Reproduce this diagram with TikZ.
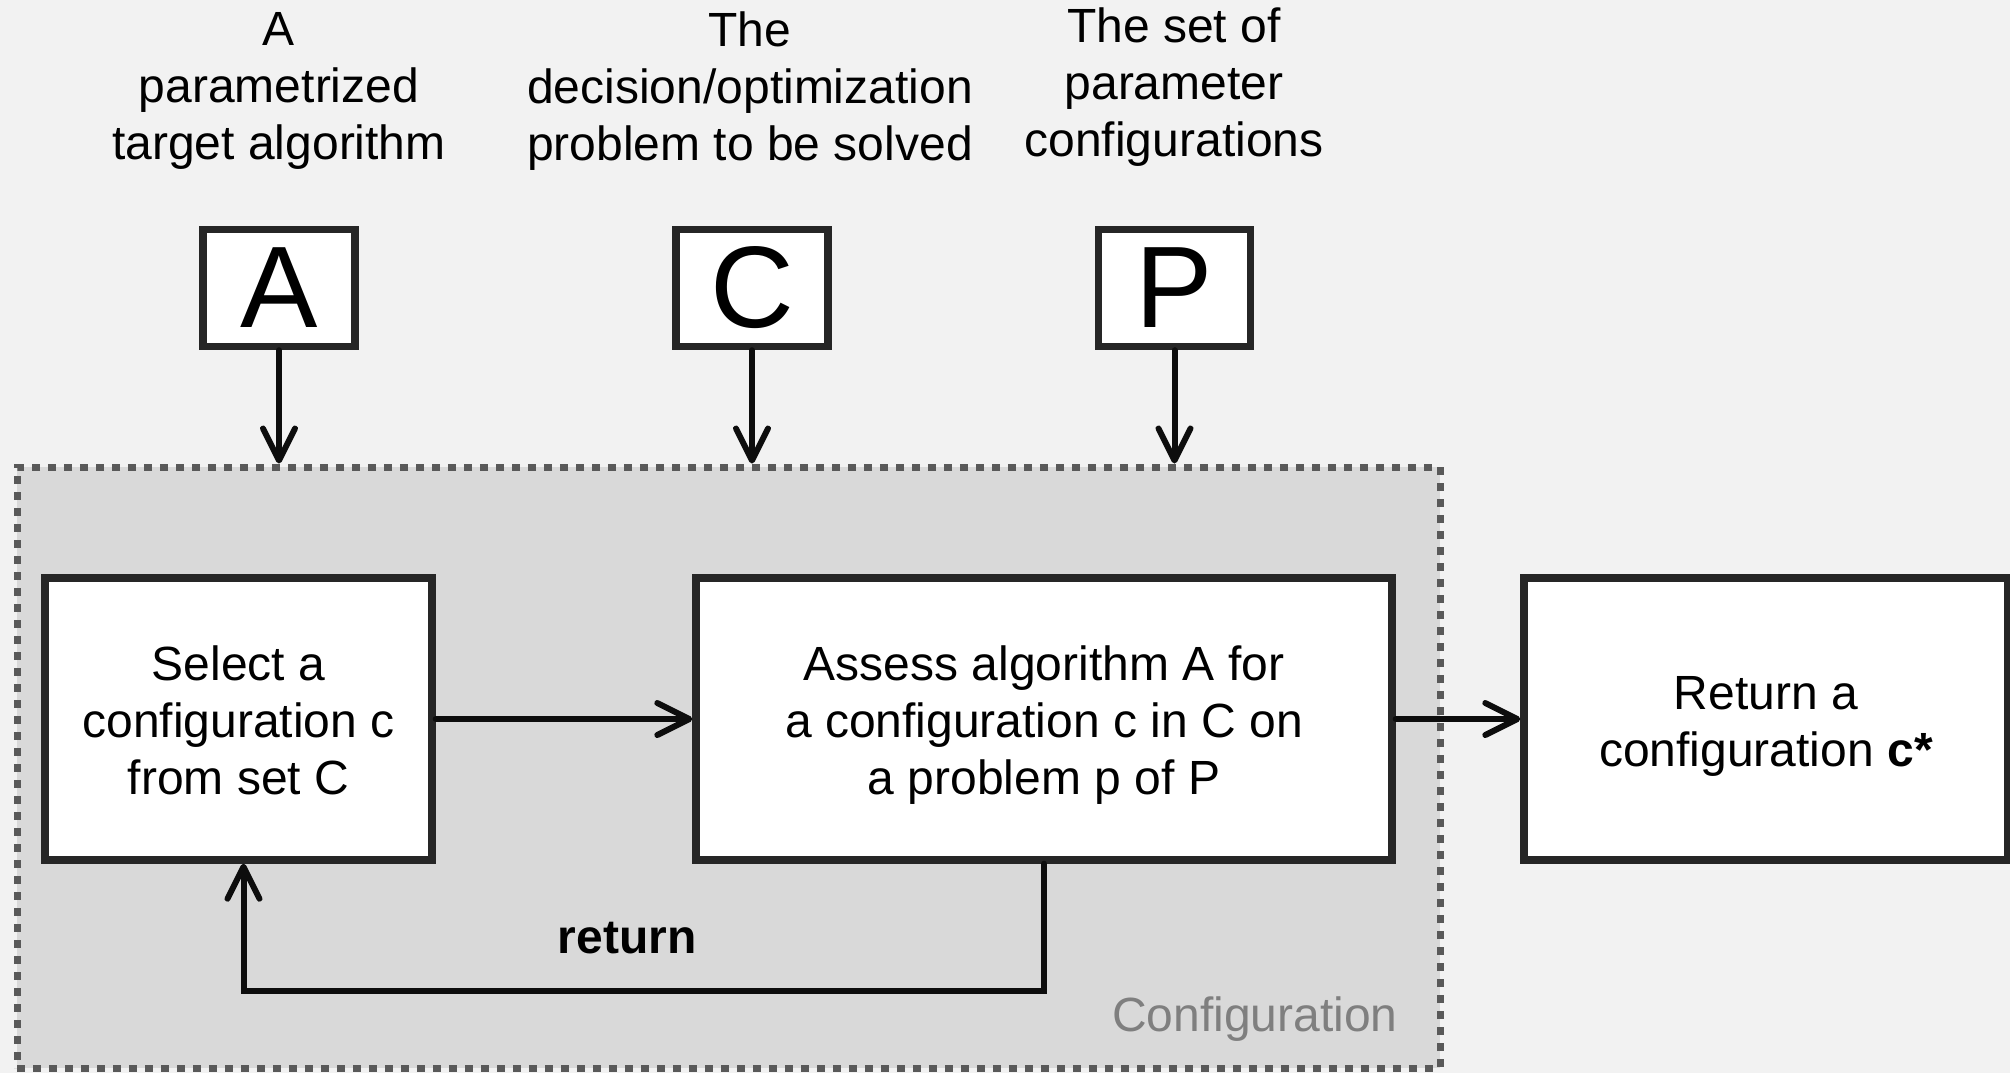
\documentclass[tikz,border=0pt]{standalone}
\usepackage{fontspec}
\setmainfont{Liberation Sans}
\usetikzlibrary{arrows.meta}
\definecolor{bgc}{HTML}{F2F2F2}
\definecolor{contfill}{HTML}{D9D9D9}
\definecolor{contline}{HTML}{595959}
\definecolor{boxline}{HTML}{262626}
\definecolor{arrline}{HTML}{0D0D0D}
\definecolor{labgray}{HTML}{7F7F7F}
\newcommand{\topstrut}{\rule{0pt}{27.4pt}}
\tikzset{
  txt/.style={font=\fontsize{24}{28.5}\selectfont, align=center, inner sep=0pt},
  struts/.style={execute at begin node={\strut}, execute at end node={\strut}},
  boxstruts/.style={execute at end node={\rule[-8.5pt]{0pt}{8.5pt}}},
  procbox/.style={draw=boxline, fill=white, line width=3.7pt, txt, boxstruts, minimum height=141pt},
  letterbox/.style={draw=boxline, fill=white, line width=3.7pt, inner sep=0pt,
     minimum width=76pt, minimum height=58.5pt, font=\fontsize{58}{60}\selectfont},
  arr/.style={draw=arrline, line width=3pt, line cap=round,
     -{Straight Barb[length=16pt,width=16pt,round]}},
}
\begin{document}
\begin{tikzpicture}[x=0.5pt,y=-0.5pt]
\fill[bgc] (0,0) rectangle (2010,1073);
\useasboundingbox (0,0) rectangle (2010,1073);

% container
\node[draw=contline, fill=contfill, line width=3.5pt, dash pattern=on 3.8pt off 4.2pt,
      minimum width=711.5pt, minimum height=300.5pt, inner sep=0pt] (cont) at (728.5,767.5) {};

% titles
\node[txt, struts] (tA) at (279,95) {A\\parametrized\\target algorithm};
\node[txt, struts] (tC) at (750,95) {The\\decision/optimization\\problem to be solved};
\node[txt, struts] (tP) at (1174,91) {The set of\\parameter\\configurations};

% letter boxes
\node[letterbox] (bA) at (279,288) {A};
\node[letterbox] (bC) at (752,288) {C};
\node[letterbox] (bP) at (1174.5,288) {P};

\draw[arr] (bA.south) -- (bA.south |- cont.north);
\draw[arr] (bC.south) -- (bC.south |- cont.north);
\draw[arr] (bP.south) -- (bP.south |- cont.north);

% process boxes
\node[procbox, minimum width=193.5pt] (sel) at (238.5,719) {\topstrut Select a\\configuration c\\from set C};
\node[procbox, minimum width=348pt] (ass) at (1044,719) {\topstrut Assess algorithm A for\\a configuration c in C on\\a problem p of P};
\node[procbox, minimum width=242pt] (ret) at (1766,719) {\topstrut Return a\\configuration \textbf{c*}};

\draw[arr] (sel.east) -- (ass.west);
\draw[arr] (ass.east) -- (ret.west);

% loop
\coordinate (loopend) at ([xshift=2.5pt]sel.south);
\coordinate (loopcorner) at (ass.south |- 0,991);
\draw[arr] (ass.south) -- (loopcorner) -| (loopend);

\node[txt, font=\fontsize{24}{28.5}\selectfont\bfseries] (lret) at (627,938) {return};
\node[txt, text=labgray, anchor=east] (lconf) at (1398,1019) {Configuration};
\end{tikzpicture}
\end{document}
